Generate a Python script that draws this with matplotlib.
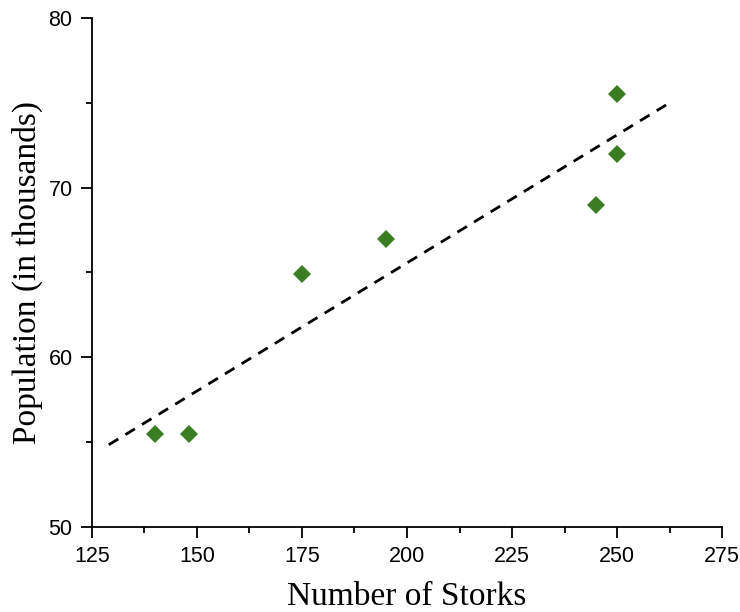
import numpy as np
import matplotlib.pyplot as plt
from matplotlib.ticker import MultipleLocator

# Storks vs population
storks = [140, 148, 175, 195, 245, 250, 250]
population = [55.5, 55.5, 64.9, 67.0, 69.0, 72.0, 75.5]
fit_range = [129, 263]

x_ticks = [125, 150, 175, 200, 225, 250, 275]
y_ticks = [50, 60, 70, 80]

fig = plt.figure(figsize=(7.4, 6.12), dpi=100)
ax = fig.add_axes([0.1243, 0.1389, 0.8514, 0.8317])

# Linear fit line
slope, icpt = np.polyfit(storks, population, 1)
xf = np.array(fit_range)
ax.plot(xf, slope * xf + icpt, color='black', lw=2, linestyle=(0, (4, 3)))

ax.plot(storks, population, 'D', color='#3a7d22', markersize=9, markeredgewidth=0)

ax.set_xlim(125, 275)
ax.set_ylim(50, 80)
ax.set_xticks(x_ticks)
ax.set_yticks(y_ticks)
ax.xaxis.set_minor_locator(MultipleLocator(12.5))
ax.yaxis.set_minor_locator(MultipleLocator(5))

for s in ['top', 'right']:
    ax.spines[s].set_visible(False)
for s in ['left', 'bottom']:
    ax.spines[s].set_linewidth(1.3)

ax.tick_params(which='major', direction='out', length=8, width=1.3,
               labelsize=15.5, pad=6)
ax.tick_params(which='minor', direction='out', length=4.5, width=1.3)
for lab in ax.get_xticklabels() + ax.get_yticklabels():
    lab.set_fontfamily('Liberation Sans')

ax.set_xlabel('Number of Storks', fontfamily='Liberation Serif', fontsize=24, labelpad=10)
ax.set_ylabel('Population (in thousands)', fontfamily='Liberation Serif', fontsize=24, labelpad=4)

plt.savefig('out.png', dpi=100)
